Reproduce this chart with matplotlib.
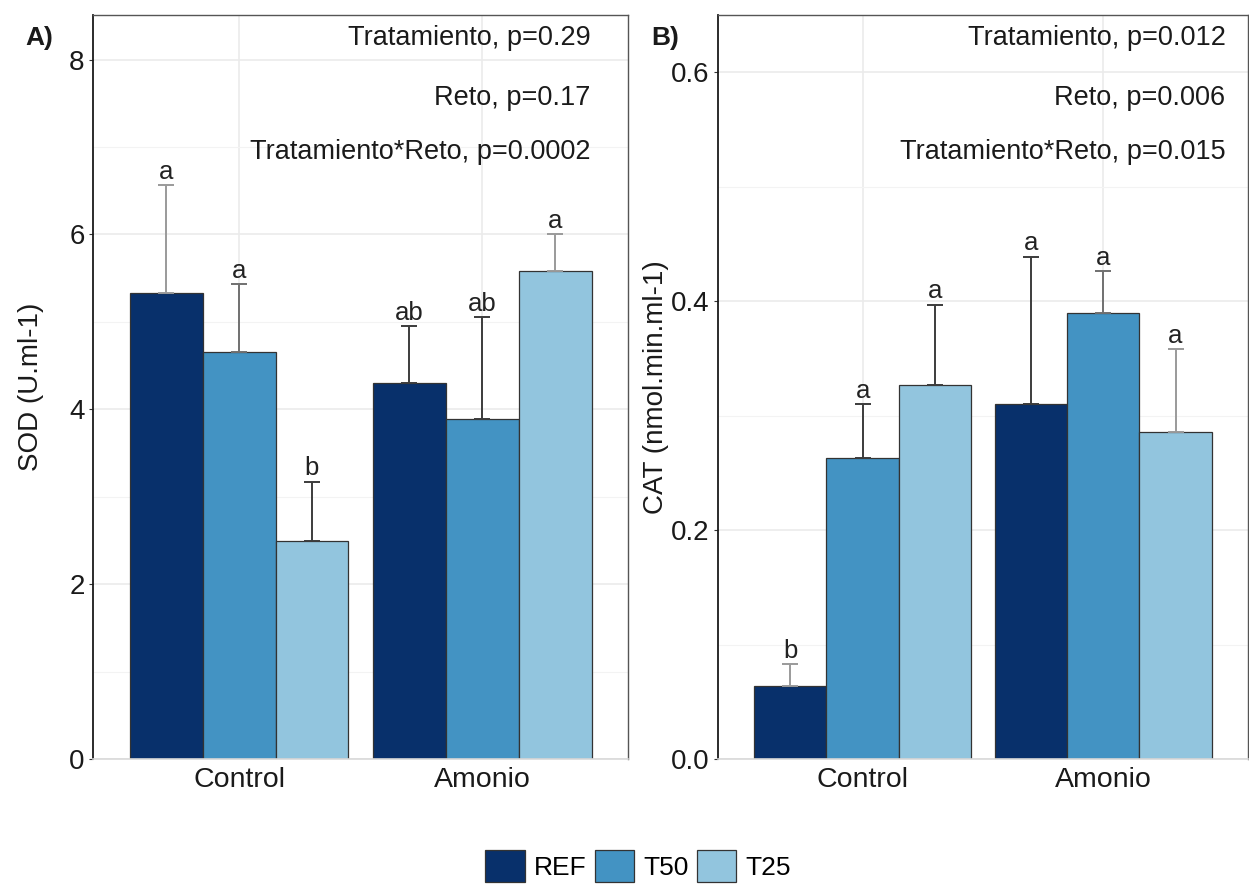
import numpy as np
import matplotlib
matplotlib.use("Agg")
from matplotlib import pyplot as plt
from matplotlib.patches import Patch
from matplotlib.ticker import MultipleLocator, FormatStrFormatter

plt.rcParams['font.family'] = ['Liberation Sans', 'DejaVu Sans']

groups = ["Control", "Amonio"]
series = ["REF", "T50", "T25"]
colors = ["#08306B", "#4393C3", "#92C5DE"]

# Panel A: SOD
sod_mean = {"REF": [5.33, 4.30], "T50": [4.65, 3.89], "T25": [2.49, 5.58]}
sod_err = {"REF": [1.23, 0.65], "T50": [0.78, 1.16], "T25": [0.68, 0.42]}
sod_letters = {"REF": ["a", "ab"], "T50": ["a", "ab"], "T25": ["b", "a"]}
sod_stats = ["Tratamiento, p=0.29", "Reto, p=0.17", "Tratamiento*Reto, p=0.0002"]

# Panel B: CAT
cat_mean = {"REF": [0.064, 0.310], "T50": [0.263, 0.390], "T25": [0.327, 0.286]}
cat_err = {"REF": [0.019, 0.129], "T50": [0.047, 0.036], "T25": [0.070, 0.072]}
cat_letters = {"REF": ["b", "a"], "T50": ["a", "a"], "T25": ["a", "a"]}
cat_stats = ["Tratamiento, p=0.012", "Reto, p=0.006", "Tratamiento*Reto, p=0.015"]

# error bar shades as they appear in the picture
GRAY, MID, DARK = "#9a9a9a", "#707070", "#3c3c3c"
sod_ecol = {"REF": [GRAY, DARK], "T50": [MID, DARK], "T25": [DARK, GRAY]}
cat_ecol = {"REF": [GRAY, DARK], "T50": [DARK, MID], "T25": [DARK, GRAY]}


def draw_panel(ax, means, errs, letters, ecols, stats, ylabel, ytop, major, minor, tag, fmt,
               label_x, stat_x):
    x = np.arange(1, len(groups) + 1)
    w = 0.3
    for i, s in enumerate(series):
        pos = x + (i - 1) * w
        ax.bar(pos, means[s], width=w, color=colors[i], edgecolor="#333333",
               linewidth=0.9, zorder=2)
        for p, m, e, lt, ec in zip(pos, means[s], errs[s], letters[s], ecols[s]):
            ax.errorbar([p], [m], yerr=[[0], [e]], fmt="none", ecolor=ec,
                        elinewidth=1.4, capsize=5.8, capthick=1.4, zorder=3)
            ax.annotate(lt, (p, m + e), xytext=(0, 1), textcoords="offset points",
                        ha="center", va="bottom", fontsize=18.5, color="#222222", zorder=4)

    for k, t in enumerate(stats):
        ax.text(stat_x, [0.969, 0.888, 0.816][k], t, transform=ax.transAxes,
                ha="right", va="center", fontsize=19.5, color="#1a1a1a")

    ax.set_xlim(0.4, 2.6)
    ax.set_ylim(0, ytop)
    ax.set_xticks(x)
    ax.set_xticklabels(groups)
    ax.yaxis.set_major_locator(MultipleLocator(major))
    ax.yaxis.set_minor_locator(MultipleLocator(minor))
    ax.yaxis.set_major_formatter(FormatStrFormatter(fmt))
    ax.grid(which="major", color="#EBEBEB", linewidth=1.2, zorder=0)
    ax.grid(which="minor", axis="y", color="#F3F3F3", linewidth=0.8, zorder=0)
    ax.set_axisbelow(True)
    ax.tick_params(axis="y", which="major", labelsize=20, length=3, width=0.8,
                   color="#333333", labelcolor="#1a1a1a", pad=3)
    ax.tick_params(axis="y", which="minor", length=0)
    ax.tick_params(axis="x", labelsize=20.5, labelcolor="#1a1a1a", length=0, pad=6)
    ax.set_ylabel(ylabel, fontsize=20, color="#1a1a1a")
    ax.yaxis.set_label_coords(label_x, 0.5)
    ax.spines["left"].set_color("#1a1a1a")
    ax.spines["left"].set_linewidth(1.3)
    for sp in ["top", "right"]:
        ax.spines[sp].set_color("#555555")
        ax.spines[sp].set_linewidth(1.0)
    ax.spines["bottom"].set_color("#D9D9D9")
    ax.spines["bottom"].set_linewidth(1.2)
    ax.text(-0.1, 0.969, tag, transform=ax.transAxes, ha="center", va="center",
            fontsize=19, fontweight="bold", color="#1a1a1a")


fig = plt.figure(figsize=(12.49, 8.88), dpi=100)
axA = fig.add_axes([0.0745, 0.1453, 0.4285, 0.8378])
axB = fig.add_axes([0.575, 0.1453, 0.424, 0.8378])

draw_panel(axA, sod_mean, sod_err, sod_letters, sod_ecol, sod_stats, "SOD (U.ml-1)", 8.51, 2, 1,
           "A)", "%d", -0.092, 0.929)
draw_panel(axB, cat_mean, cat_err, cat_letters, cat_ecol, cat_stats, "CAT (nmol.min.ml-1)", 0.65,
           0.2, 0.1, "B)", "%.1f", -0.092, 0.958)

handles = [Patch(facecolor=c, edgecolor="#333333", linewidth=0.9, label=s)
           for c, s in zip(colors, series)]
fig.legend(handles=handles, loc="center", bbox_to_anchor=(0.511, 0.025), ncol=3, frameon=False,
           fontsize=19, handlelength=1.5, handleheight=1.5, handletextpad=0.35, columnspacing=0.3)

fig.savefig("out.png", dpi=100)
